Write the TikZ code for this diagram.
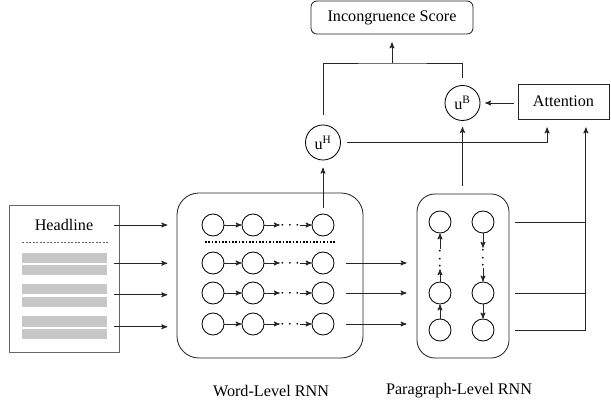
\documentclass[tikz,border=0pt]{standalone}
\usepackage{fontspec}
\setmainfont{Liberation Serif}
\usepackage{tikz}
\usetikzlibrary{arrows, positioning, shapes}
\tikzset{%
    % one unit = one pixel of the figure
    px/.style   = {x=0.025cm, y=-0.025cm},
    every node/.style = {font=\fontsize{11.5}{14}\selectfont},
    unit/.style = {draw, circle, line width=0.6pt, minimum size=0.55cm, inner sep=0pt},
    vec/.style  = {draw, circle, line width=0.6pt, minimum size=0.875cm, inner sep=0pt},
    dots/.style = {inner sep=0pt, minimum width=0.5cm, text height=5.75pt, text depth=0pt},
    bar/.style  = {rectangle, fill=black!22, minimum width=2.125cm,
    minimum height=0.25cm, inner sep=0pt}
}
\begin{document}
\begin{tikzpicture}[px]

	\tikzstyle{arc}=[->,>=stealth',line width=0.6pt, black!85]
	\tikzstyle{wire}=[line width=0.6pt, black!85]
	\tikzstyle{box}=[rectangle, draw=black!85, line width=0.6pt, inner sep=0pt]
	\useasboundingbox (0,0) rectangle (611,405);

	% document
	\node[box, draw=black!60, line width=0.7pt, minimum width=2.725cm, minimum height=3.65cm] (doc) at (64.5,279) {};
	\node (head) at (64,225) {Headline};
	\draw[black!60, line width=0.4pt, dash pattern=on 1.5pt off 1pt] (22,242) -- (108,242);
	\node[bar] (b1a) at (64.5,258) {};
	\node[bar] (b1b) at (64.5,270) {};
	\node[bar] (b2a) at (64.5,289.5) {};
	\node[bar] (b2b) at (64.5,302) {};
	\node[bar] (b3a) at (64.5,321.5) {};
	\node[bar] (b3b) at (64.5,334) {};
	\coordinate (din) at ([xshift=-0.15cm]doc.east);

	% word level
	\node[box, rounded corners=0.55cm, minimum width=4.65cm, minimum height=4.125cm] (word) at (270,275.5) {};
	\node[unit] (w11) at (213,225) {};
	\node[unit] (w12) at (253,225) {};
	\node[dots] (dw1) at (290,225) {$\cdots$};
	\node[unit] (w13) at (323,225) {};
	\node[unit] (w21) at (213,263) {};
	\node[unit] (w22) at (253,263) {};
	\node[dots] (dw2) at (290,263) {$\cdots$};
	\node[unit] (w23) at (323,263) {};
	\node[unit] (w31) at (213,293) {};
	\node[unit] (w32) at (253,293) {};
	\node[dots] (dw3) at (290,293) {$\cdots$};
	\node[unit] (w33) at (323,293) {};
	\node[unit] (w41) at (213,324) {};
	\node[unit] (w42) at (253,324) {};
	\node[dots] (dw4) at (290,324) {$\cdots$};
	\node[unit] (w43) at (323,324) {};
	\draw[line width=1.3pt, dash pattern=on 1.2pt off 1.2pt] (205,242) -- (335,242);
	\draw[arc] (w11) -- (w12);
	\draw[arc] (w12) -- (dw1);
	\draw[arc] (dw1) -- (w13);
	\draw[arc] (w21) -- (w22);
	\draw[arc] (w22) -- (dw2);
	\draw[arc] (dw2) -- (w23);
	\draw[arc] (w31) -- (w32);
	\draw[arc] (w32) -- (dw3);
	\draw[arc] (dw3) -- (w33);
	\draw[arc] (w41) -- (w42);
	\draw[arc] (w42) -- (dw4);
	\draw[arc] (dw4) -- (w43);
	\draw[arc, shorten >=0.23cm] (din |- head) -- (word.west |- head);
	\draw[arc, shorten >=0.23cm] (din |- b1a.south) -- (word.west |- b1a.south);
	\draw[arc, shorten >=0.23cm] (din |- b2a.south) -- (word.west |- b2a.south);
	\draw[arc, shorten >=0.23cm] (din |- b3a.south) -- (word.west |- b3a.south);

	% paragraph level
	\node[box, rounded corners=0.45cm, minimum width=2.3cm, minimum height=4.1cm] (para) at (463,276) {};
	\node[unit] (p11) at (440,222) {};
	\node[unit] (p12) at (483,222) {};
	\node[dots, rotate=90] (dl) at (440,259) {$\cdots$};
	\node[dots, rotate=90] (dr) at (483,258) {$\cdots$};
	\node[unit] (p21) at (440,293) {};
	\node[unit] (p22) at (483,293) {};
	\node[unit] (p31) at (440,330) {};
	\node[unit] (p32) at (483,330) {};
	\draw[arc] (p31) -- (p21);
	\draw[arc] (p21) -- (dl);
	\draw[arc] (dl) -- (p11);
	\draw[arc] (p12) -- (dr);
	\draw[arc] (dr) -- (p22);
	\draw[arc] (p22) -- (p32);
	\draw[arc, shorten <=0.28cm, shorten >=0.25cm] (w23) -- (w23 -| para.west);
	\draw[arc, shorten <=0.28cm, shorten >=0.25cm] (w33) -- (w33 -| para.west);
	\draw[arc, shorten <=0.28cm, shorten >=0.25cm] (w43) -- (w43 -| para.west);

	% top part
	\node[box, minimum width=2.275cm, minimum height=0.875cm] (att) at (563.5,101.5) {Attention};
	\node[vec] (uh) at (323,142.5) {u\textsuperscript{H}};
	\node[vec] (ub) at (462.5,103) {u\textsuperscript{B}};
	\node[box, rounded corners=0.15cm, minimum width=4.05cm, minimum height=0.825cm] (score) at (392,17.5) {Incongruence Score};
	\coordinate (j) at ([xshift=0.56cm]att.south);
	\coordinate (k) at ([xshift=-0.41cm]att.south);
	\coordinate (m) at (392,63);
	\draw[wire, shorten <=0.13cm] (para.east |- p12) -- (j |- p12);
	\draw[wire, shorten <=0.13cm] (para.east |- p22) -- (j |- p22);
	\draw[arc, shorten <=0.13cm, shorten >=0.2cm] (para.east |- p32) -| (j);
	\draw[arc, shorten <=0.15cm, shorten >=0.18cm] (w13) -- (uh);
	\draw[arc, shorten <=0.2cm, shorten >=0.15cm] (para.north -| ub) -- (ub);
	\draw[arc, shorten <=0.1cm, shorten >=0.12cm] (att.west |- ub) -- (ub);
	\draw[arc, shorten <=0.15cm, shorten >=0.2cm] (uh) -| (k);
	\draw[wire, shorten <=0.25cm, shorten >=0.18cm] (uh) |- (m) -| (ub);
	\draw[arc, shorten >=0.2cm] (m) -- (score);

	% labels
	\node (wl) at (271,391) {Word-Level RNN};
	\node (pl) at (459,391) {Paragraph-Level RNN};

\end{tikzpicture}
\end{document}
